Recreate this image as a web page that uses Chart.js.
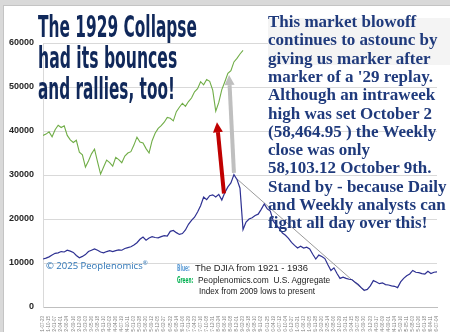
<!DOCTYPE html>
<html>
<head>
<meta charset="utf-8">
<script src="https://cdn.jsdelivr.net/npm/chart.js@4.4.1/dist/chart.umd.min.js"></script>
<style>
    html, body { margin: 0; padding: 0; background: #d9d9d9; width: 450px; height: 332px; overflow: hidden; }
    #frame { position: absolute; left: 3px; top: 5px; width: 447px; height: 327px; background: #fff; border-left: 1px solid #c4c4c4; border-top: 1px solid #c4c4c4; }
    #chart { position: absolute; left: 0; top: 0; }
    #noteBox { position: absolute; left: 268px; top: 18px; width: 182px; height: 47px; background: #f4f4f4; }
    .txt { position: absolute; white-space: pre; transform-origin: 0 0; }
</style>
</head>
<body>
<div id="frame"></div>
<canvas id="chart" width="450" height="332"></canvas>
<div id="noteBox"></div>
<script>
// x tick labels (one every 12 weeks), weekly closes sampled every 6 weeks
const tickLabels = [
    '1921-07-23', '1921-10-15', '1922-01-07', '1922-04-01', '1922-06-24', '1922-09-16',
    '1922-12-09', '1923-03-03', '1923-05-26', '1923-08-18', '1923-11-10', '1924-02-02',
    '1924-04-26', '1924-07-19', '1924-10-11', '1925-01-03', '1925-03-28', '1925-06-20',
    '1925-09-12', '1925-12-05', '1926-02-27', '1926-05-22', '1926-08-14', '1926-11-06',
    '1927-01-29', '1927-04-23', '1927-07-16', '1927-10-08', '1927-12-31', '1928-03-24',
    '1928-06-16', '1928-09-08', '1928-12-01', '1929-02-23', '1929-05-18', '1929-08-10',
    '1929-11-02', '1930-01-25', '1930-04-19', '1930-07-12', '1930-10-04', '1930-12-27',
    '1931-03-21', '1931-06-13', '1931-09-05', '1931-11-28', '1932-02-20', '1932-05-14',
    '1932-08-06', '1932-10-29', '1933-01-21', '1933-04-15', '1933-07-08', '1933-09-30',
    '1933-12-23', '1934-03-17', '1934-06-09', '1934-09-01', '1934-11-24', '1935-02-16',
    '1935-05-11', '1935-08-03', '1935-10-26', '1936-01-18', '1936-04-11', '1936-07-04'
];

// Blue: DJIA 1921 - 1936 (scaled)
const djia = [
    10900, 11100, 11400, 11800, 12200, 12300, 12600, 12500, 12900, 12700,
    12400, 11700, 11200, 11500, 11900, 12600, 12900, 13200, 12900, 12500,
    12300, 12600, 12800, 12600, 12800, 13000, 12900, 13300, 13500, 13700,
    14100, 14600, 15400, 15900, 15200, 15700, 16000, 15800, 15700, 16000,
    16200, 16100, 17200, 17400, 16900, 16500, 16700, 17500, 18800, 19700,
    20400, 21600, 23000, 25000, 24400, 25300, 25500, 25000, 25600, 24300,
    26000, 27300, 28200, 30100, 29000, 27000, 17600, 19300, 20000, 20300,
    20800, 21100, 22200, 23400, 22300, 21800, 19500, 18600, 17800, 16800,
    16300, 15600, 14700, 14000, 13400, 13800, 13400, 13600, 13200, 12000,
    10900, 11800, 11500, 11000, 9600, 8300, 8900, 7600, 6500, 6800,
    6500, 6300, 6200, 5600, 5100, 4400, 3800, 4000, 4800, 6000,
    5700, 5300, 5500, 5100, 5000, 4800, 4700, 4400, 5700, 6500,
    7100, 7500, 8300, 7900, 7800, 7600, 7500, 8100, 7600, 7900,
    8000
];

// Green: Peoplenomics U.S. Aggregate index from 2009 lows to present
const aggregate = [
    39000, 39300, 39800, 38700, 40300, 41300, 40800, 41200, 39000, 38000,
    37400, 37900, 35200, 34600, 31800, 33200, 34800, 35900, 33000, 30200,
    31800, 33400, 32800, 32000, 34000, 33500, 32800, 34300, 35000, 35300,
    36800, 38600, 37500, 37300, 36000, 35000, 37800, 39500, 40600, 41200,
    42000, 43100, 42900, 42300, 44400, 45400, 46300, 45600, 46700, 47500,
    48900, 49600, 51200, 50500, 51700, 51300, 49300, 44500, 46500, 49400,
    51200, 53100, 53700, 55700, 56500, 57500, 58300
];

// hand-drawn trend line from the 1929 top to the 1932 low
const trendX = [64, 106];
const trendY = [29100, 3700];

const yTicks = [0, 10000, 20000, 30000, 40000, 50000, 60000];

const arrows = [
    { from: [59.7, 25800], to: [57.4, 42000], color: '#c00000' },
    { from: [63.0, 30500], to: [61.4, 52700], color: '#bfbfbf' }
];

const arrowPlugin = {
    id: 'arrows',
    afterDatasetsDraw(chart) {
        const ctx = chart.ctx;
        const xs = chart.scales.x;
        const ys = chart.scales.y;
        arrows.forEach(a => {
            const x1 = xs.getPixelForValue(a.from[0]);
            const y1 = ys.getPixelForValue(a.from[1]);
            const x2 = xs.getPixelForValue(a.to[0]);
            const y2 = ys.getPixelForValue(a.to[1]);
            const len = Math.hypot(x2 - x1, y2 - y1);
            const ux = (x2 - x1) / len;
            const uy = (y2 - y1) / len;
            const headLen = 10;
            const headW = 5;
            const bx = x2 - ux * headLen;
            const by = y2 - uy * headLen;
            ctx.save();
            ctx.strokeStyle = a.color;
            ctx.fillStyle = a.color;
            ctx.lineWidth = 4;
            ctx.beginPath();
            ctx.moveTo(x1, y1);
            ctx.lineTo(bx, by);
            ctx.stroke();
            ctx.beginPath();
            ctx.moveTo(x2, y2);
            ctx.lineTo(bx - uy * headW, by + ux * headW);
            ctx.lineTo(bx + uy * headW, by - ux * headW);
            ctx.closePath();
            ctx.fill();
            ctx.restore();
        });
    }
};

Chart.defaults.font.family = '"Liberation Sans", Arial, sans-serif';

const ctx = document.getElementById('chart').getContext('2d');
const chart = new Chart(ctx, {
    type: 'line',
    data: {
        datasets: [{
            label: 'DJIA 1921-1936',
            data: djia.map((v, i) => ({ x: i, y: v })),
            borderColor: '#2e3192',
            borderWidth: 1.2,
            pointRadius: 0,
            tension: 0
        }, {
            label: 'Peoplenomics U.S. Aggregate',
            data: aggregate.map((v, i) => ({ x: i, y: v })),
            borderColor: '#70ad47',
            borderWidth: 1.1,
            pointRadius: 0,
            tension: 0
        }, {
            label: 'Trend',
            data: trendX.map((x, i) => ({ x: x, y: trendY[i] })),
            borderColor: '#9a9a9a',
            borderWidth: 1,
            pointRadius: 0
        }]
    },
    options: {
        responsive: false,
        animation: false,
        layout: { padding: { left: 0, top: 43, right: 13, bottom: 0 } },
        plugins: {
            legend: { display: false },
            tooltip: { enabled: false }
        },
        scales: {
            x: {
                type: 'linear',
                min: 0,
                max: 130,
                grid: { display: false },
                border: { display: true, color: '#bfbfbf' },
                ticks: {
                    stepSize: 2,
                    autoSkip: false,
                    maxTicksLimit: 200,
                    minRotation: 90,
                    maxRotation: 90,
                    padding: 1,
                    color: '#808080',
                    font: { size: 4.5 },
                    callback: v => tickLabels[v / 2] || ''
                },
                afterFit: scale => { scale.height = 25; }
            },
            y: {
                min: 0,
                max: 60000,
                grid: { color: '#d9d9d9', tickLength: 0 },
                border: { color: '#d9d9d9' },
                afterBuildTicks: scale => { scale.ticks = yTicks.map(v => ({ value: v })); },
                ticks: {
                    padding: 9,
                    color: '#262626',
                    font: { size: 9, weight: 'bold' },
                    callback: v => String(v)
                },
                afterFit: scale => { scale.width = 43; }
            }
        }
    },
    plugins: [arrowPlugin]
});

// text overlays, placed by baseline
const addText = (html, x, baseline, font, color, width) => {
    const d = document.createElement('div');
    d.className = 'txt';
    d.style.font = font;
    d.style.lineHeight = '1';
    d.style.color = color;
    d.innerHTML = html;
    const mark = document.createElement('span');
    mark.style.display = 'inline-block';
    mark.style.width = '0';
    mark.style.height = '0';
    d.appendChild(mark);
    document.body.appendChild(d);
    d.style.left = x + 'px';
    d.style.top = (baseline - mark.offsetTop) + 'px';
    if (width) {
        d.style.transform = 'scaleX(' + (width / d.offsetWidth) + ')';
    }
    return d;
};

const titleFont = 'bold 31px "DejaVu Sans Condensed", "Liberation Sans Narrow", Roboto, sans-serif';
const titleLines = ['The 1929 Collapse', 'had its bounces', 'and rallies, too!'];
const titleWidths = [159, 139, 137];
titleLines.forEach((t, i) => addText(t, 38, 37 + i * 31, titleFont, '#10285a', titleWidths[i]));

const noteFont = 'bold 17px "Liberation Serif", "DejaVu Serif", serif';
const noteLines = [
    'This market blowoff',
    'continues to astounc by',
    'giving us marker after',
    'marker of a \'29 replay.',
    'Although an intraweek',
    'high was set October 2',
    '(58,464.95 ) the Weekly',
    'close was only',
    '58,103.12 October 9th.',
    'Stand by - because Daily',
    'and Weekly analysts can',
    'fight all day over this!'
];
const probe = addText(noteLines[1], 0, 0, noteFont, '#fff');
const noteScale = 170 / probe.offsetWidth;
probe.remove();
noteLines.forEach((t, i) => {
    const d = addText(t, 268, 27 + i * 18.3, noteFont, '#1f3a7c');
    d.style.transform = 'scaleX(' + noteScale + ')';
});

addText('© 2025 Peoplenomics<sup style="font-size:6px">®</sup>', 46, 269, '9.5px "Open Sans", sans-serif', '#2e75b6', 102);

const keyFont = 'bold 8px "DejaVu Sans Condensed", "Liberation Sans Narrow", Roboto, sans-serif';
const bodyFont = '8.5px "Liberation Sans", Arial, sans-serif';
addText('Blue:', 177, 271, keyFont, '#5b9bd5', 13);
addText('The DJIA from 1921 - 1936', 195, 271, bodyFont, '#1a1a1a', 113);
addText('Green:', 177, 283, keyFont, '#00b050', 16);
addText('Peoplenomics.com  U.S. Aggregate', 198, 283, bodyFont, '#1a1a1a', 132);
addText('Index from 2009 lows to present', 199, 294, bodyFont, '#1a1a1a', 116);
</script>
</body>
</html>
